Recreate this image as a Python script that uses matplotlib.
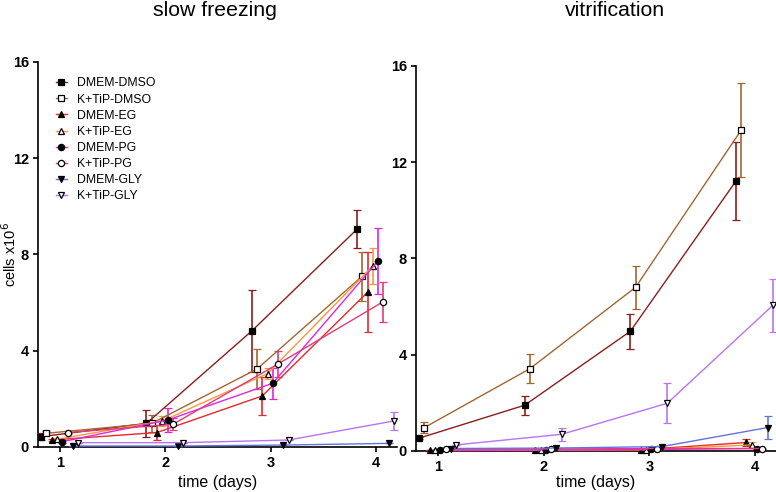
#!/usr/bin/env python3
import matplotlib

matplotlib.use("Agg")
import matplotlib.pyplot as plt
from matplotlib.lines import Line2D

plt.rcParams["font.family"] = ["Liberation Sans", "DejaVu Sans"]

DAYS = [1, 2, 3, 4]

SERIES = ["DMEM-DMSO", "K+TiP-DMSO", "DMEM-EG", "K+TiP-EG",
          "DMEM-PG", "K+TiP-PG", "DMEM-GLY", "K+TiP-GLY"]

# slow freezing, cells x10^6 (mean, error)
slow_dmem_dmso = [0.43, 0.98, 4.82, 9.05]
slow_dmem_dmso_err = [0.15, 0.55, 1.72, 0.78]
slow_ktip_dmso = [0.57, 0.98, 3.24, 7.10]
slow_ktip_dmso_err = [0.08, 0.35, 0.82, 1.02]
slow_dmem_eg = [0.29, 0.60, 2.12, 6.43]
slow_dmem_eg_err = [0.05, 0.30, 0.78, 1.67]
slow_ktip_eg = [0.32, 1.08, 3.05, 7.52]
slow_ktip_eg_err = [0.05, 0.20, 0.22, 0.75]
slow_dmem_pg = [0.22, 1.12, 2.65, 7.73]
slow_dmem_pg_err = [0.05, 0.50, 0.65, 1.38]
slow_ktip_pg = [0.60, 0.94, 3.45, 6.04]
slow_ktip_pg_err = [0.05, 0.25, 0.55, 0.83]
slow_dmem_gly = [0.04, 0.04, 0.08, 0.15]
slow_dmem_gly_err = [0.0, 0.0, 0.0, 0.0]
slow_ktip_gly = [0.18, 0.18, 0.29, 1.08]
slow_ktip_gly_err = [0.0, 0.0, 0.0, 0.38]

# vitrification, cells x10^6 (mean, error)
vit_dmem_dmso = [0.53, 1.90, 4.97, 11.21]
vit_dmem_dmso_err = [0.05, 0.40, 0.73, 1.63]
vit_ktip_dmso = [0.97, 3.42, 6.80, 13.33]
vit_ktip_dmso_err = [0.22, 0.60, 0.90, 1.95]
vit_dmem_eg = [0.02, 0.02, 0.05, 0.35]
vit_dmem_eg_err = [0.0, 0.0, 0.0, 0.13]
vit_ktip_eg = [0.02, 0.03, 0.05, 0.25]
vit_ktip_eg_err = [0.0, 0.0, 0.0, 0.10]
vit_dmem_pg = [0.03, 0.04, 0.06, 0.10]
vit_dmem_pg_err = [0.0, 0.0, 0.0, 0.0]
vit_ktip_pg = [0.08, 0.08, 0.10, 0.10]
vit_ktip_pg_err = [0.0, 0.0, 0.0, 0.0]
vit_dmem_gly = [0.10, 0.12, 0.18, 0.97]
vit_dmem_gly_err = [0.0, 0.0, 0.0, 0.48]
vit_ktip_gly = [0.25, 0.69, 1.98, 6.05]
vit_ktip_gly_err = [0.0, 0.28, 0.83, 1.10]

SLOW = [
    (slow_dmem_dmso, slow_dmem_dmso_err), (slow_ktip_dmso, slow_ktip_dmso_err),
    (slow_dmem_eg, slow_dmem_eg_err), (slow_ktip_eg, slow_ktip_eg_err),
    (slow_dmem_pg, slow_dmem_pg_err), (slow_ktip_pg, slow_ktip_pg_err),
    (slow_dmem_gly, slow_dmem_gly_err), (slow_ktip_gly, slow_ktip_gly_err),
]
VIT = [
    (vit_dmem_dmso, vit_dmem_dmso_err), (vit_ktip_dmso, vit_ktip_dmso_err),
    (vit_dmem_eg, vit_dmem_eg_err), (vit_ktip_eg, vit_ktip_eg_err),
    (vit_dmem_pg, vit_dmem_pg_err), (vit_ktip_pg, vit_ktip_pg_err),
    (vit_dmem_gly, vit_dmem_gly_err), (vit_ktip_gly, vit_ktip_gly_err),
]

# per-series horizontal nudge so the points do not overlap
OFFSETS = [-0.18, -0.13, -0.08, -0.03, 0.02, 0.07, 0.12, 0.17]
COLORS = ["#8c1c1c", "#a5652e", "#e8282b", "#f59a3c",
          "#e025e0", "#e33a7c", "#6272e0", "#b874f2"]
MARKERS = ["s", "s", "^", "^", "o", "o", "v", "v"]
FILLED = [True, False, True, False, True, False, True, False]
MSIZE = 4.5


def face(i):
    return "black" if FILLED[i] else "white"


def draw_panel(ax, data, xlabel_y):
    for i, (vals, errs) in enumerate(data):
        xs = [d + OFFSETS[i] for d in DAYS]
        ax.errorbar(xs, vals, yerr=errs, color=COLORS[i], linewidth=1.0,
                    elinewidth=1.2, capsize=2.8, capthick=1.2,
                    marker=MARKERS[i], markersize=MSIZE,
                    markerfacecolor=face(i), markeredgecolor="black",
                    markeredgewidth=0.9, clip_on=False, zorder=3)
    ax.set_xlim(0.79, 4.2)
    ax.set_ylim(0, 16)
    ax.set_yticks([0, 4, 8, 12, 16])
    ax.set_xticks(DAYS)
    for side in ("top", "right"):
        ax.spines[side].set_visible(False)
    ax.spines["left"].set_linewidth(1.2)
    ax.spines["bottom"].set_linewidth(1.2)
    ax.tick_params(direction="out", length=3.5, width=1.2, labelsize=10.5, pad=3)
    for lab in ax.get_xticklabels() + ax.get_yticklabels():
        lab.set_fontweight("bold")
    ax.set_xlabel("time (days)", fontsize=11.5, va="center")
    ax.xaxis.set_label_coords(0.5, xlabel_y)


def main() -> None:
    fig = plt.figure(figsize=(7.76, 4.92), dpi=100)
    ax1 = fig.add_axes([0.049, 0.0915, 0.4626, 0.7825])
    ax2 = fig.add_axes([0.536, 0.0835, 0.464, 0.7825])

    draw_panel(ax1, SLOW, -0.0935)
    draw_panel(ax2, VIT, -0.083)

    ax1.set_ylabel("cells x10$^6$", fontsize=10.5, va="center")
    ax1.yaxis.set_label_coords(-0.078, 0.5)

    fig.text(0.2767, 0.978, "slow freezing", ha="center", va="center", fontsize=15.3)
    fig.text(0.793, 0.978, "vitrification", ha="center", va="center", fontsize=15.3)

    handles = [Line2D([], [], color=COLORS[i], linewidth=1.0, marker=MARKERS[i],
                      markersize=MSIZE, markerfacecolor=face(i),
                      markeredgecolor="black", markeredgewidth=0.9)
               for i in range(len(SERIES))]
    ax1.legend(handles, SERIES, loc="upper left", bbox_to_anchor=(0.05, 0.96),
               frameon=False, fontsize=8.8, handlelength=0.9, handletextpad=0.8,
               labelspacing=0.34, borderaxespad=0.0, borderpad=0.0)

    fig.savefig("out.png", dpi=100)


if __name__ == "__main__":
    main()
